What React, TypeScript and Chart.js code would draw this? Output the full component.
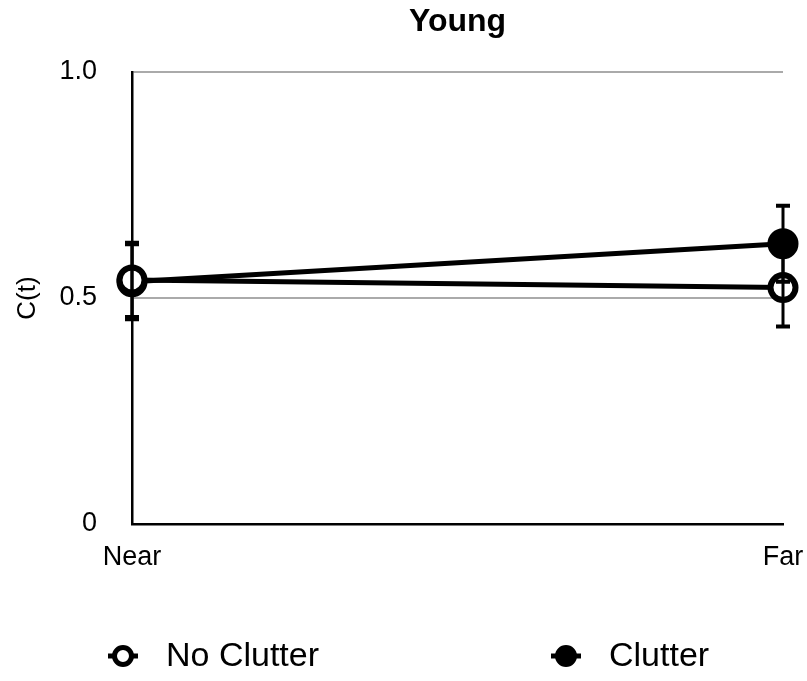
import { useEffect, useRef } from 'react';
import { Chart, registerables } from 'chart.js';

Chart.register(...registerables);

// Conditions along the x axis
const categories = ['Near', 'Far'];
// Mean C(t) per condition
const noClutterValues = [0.54, 0.523];
const clutterValues = [0.536, 0.62];
// Error-bar half lengths
const noClutterErrors = [0.082, 0.086];
const clutterErrors = [0.083, 0.084];
// Y tick labels
const yTicks = [0, 0.5, 1.0];
const yTickLabels = ['0', '0.5', '1.0'];

const FONT = '"Liberation Sans", Arial, Helvetica, sans-serif';

const errorBarPlugin = {
  id: 'errorBars',
  afterDatasetsDraw(chart: any) {
    const { ctx } = chart;
    const y = chart.scales.y;
    chart.data.datasets.forEach((ds: any, i: number) => {
      const meta = chart.getDatasetMeta(i);
      const errs: number[] = ds.errors || [];
      meta.data.forEach((pt: any, j: number) => {
        const v = ds.data[j];
        const e = errs[j];
        if (v == null || e == null) return;
        const x = pt.x;
        const yTop = y.getPixelForValue(v + e);
        const yBot = y.getPixelForValue(v - e);
        ctx.save();
        ctx.strokeStyle = '#000';
        ctx.lineWidth = 3;
        ctx.beginPath();
        ctx.moveTo(x, yTop);
        ctx.lineTo(x, yBot);
        ctx.stroke();
        ctx.lineWidth = 4;
        ctx.beginPath();
        ctx.moveTo(x - 7, yTop);
        ctx.lineTo(x + 7, yTop);
        ctx.moveTo(x - 7, yBot);
        ctx.lineTo(x + 7, yBot);
        ctx.stroke();
        ctx.restore();
      });
    });
  },
};

const legendPlugin = {
  id: 'bottomLegend',
  afterDraw(chart: any) {
    const { ctx, width } = chart;
    const yc = 656;
    const slots = [123, 566];
    chart.data.datasets.forEach((ds: any, i: number) => {
      const cx = slots[i] ?? width / 2;
      ctx.save();
      ctx.strokeStyle = ds.borderColor;
      ctx.lineWidth = 5;
      ctx.beginPath();
      ctx.moveTo(cx - 15, yc);
      ctx.lineTo(cx + 15, yc);
      ctx.stroke();
      ctx.beginPath();
      ctx.arc(cx, yc, 8.5, 0, Math.PI * 2);
      ctx.fillStyle = ds.pointBackgroundColor;
      ctx.fill();
      ctx.lineWidth = 5;
      ctx.strokeStyle = ds.pointBorderColor;
      ctx.stroke();
      ctx.fillStyle = '#000';
      ctx.font = `34px ${FONT}`;
      ctx.textBaseline = 'middle';
      ctx.textAlign = 'left';
      ctx.fillText(ds.label, cx + 43, yc + 1);
      ctx.restore();
    });
  },
};

export default function App() {
  const canvasRef = useRef<HTMLCanvasElement | null>(null);

  useEffect(() => {
    if (!canvasRef.current) return;
    const chart = new Chart(canvasRef.current, {
      type: 'line',
      data: {
        labels: categories,
        datasets: [
          {
            label: 'No Clutter',
            data: noClutterValues,
            errors: noClutterErrors,
            borderColor: '#000',
            borderWidth: 5,
            pointRadius: 12.5,
            pointHoverRadius: 12.5,
            pointBorderWidth: 6,
            pointBackgroundColor: '#fff',
            pointBorderColor: '#000',
            clip: false,
          } as any,
          {
            label: 'Clutter',
            data: clutterValues,
            errors: clutterErrors,
            borderColor: '#000',
            borderWidth: 5,
            pointRadius: 14,
            pointHoverRadius: 14,
            pointBorderWidth: 3,
            pointBackgroundColor: '#000',
            pointBorderColor: '#000',
            clip: false,
          } as any,
        ],
      },
      options: {
        animation: false,
        responsive: false,
        layout: { padding: { left: 0, right: 24, top: 0, bottom: 0 } },
        plugins: {
          legend: { display: false },
          tooltip: { enabled: false },
          title: {
            display: true,
            text: 'Young',
            fullSize: false,
            color: '#000',
            font: { family: FONT, size: 32, weight: 'bold' },
            padding: { top: 3, bottom: 30.6 },
          },
        },
        scales: {
          x: {
            type: 'category',
            offset: false,
            grid: { display: false, drawTicks: false },
            border: { color: '#000', width: 2.5 },
            ticks: {
              color: '#000',
              font: { family: FONT, size: 27 },
              padding: 17,
              maxRotation: 0,
            },
            afterFit(scale: any) {
              scale.height = 157;
              scale.paddingLeft = 0;
              scale.paddingRight = 0;
            },
          },
          y: {
            min: 0,
            max: 1,
            afterBuildTicks(scale: any) {
              scale.ticks = yTicks.map((v) => ({ value: v }));
            },
            grid: {
              drawTicks: false,
              lineWidth: 2,
              color: (c: any) => (c.tick && c.tick.value === 0 ? 'rgba(0,0,0,0)' : '#aaa'),
            },
            border: { color: '#000', width: 2.5 },
            ticks: {
              color: '#000',
              font: { family: FONT, size: 27 },
              padding: 35,
              callback: (v: any) => {
                const idx = yTicks.indexOf(Number(v));
                return idx >= 0 ? yTickLabels[idx] : '';
              },
            },
            title: {
              display: true,
              text: 'C(t)',
              color: '#000',
              font: { family: FONT, size: 26 },
              padding: { top: 12, bottom: 0 },
            },
            afterFit(scale: any) {
              scale.width = 132;
            },
          },
        },
      },
      plugins: [errorBarPlugin, legendPlugin],
    });
    return () => chart.destroy();
  }, []);

  return (
    <div style={{ position: 'fixed', left: 0, top: 0, width: 807, height: 681, background: '#fff' }}>
      <canvas ref={canvasRef} width={807} height={681} style={{ width: 807, height: 681 }} />
    </div>
  );
}
